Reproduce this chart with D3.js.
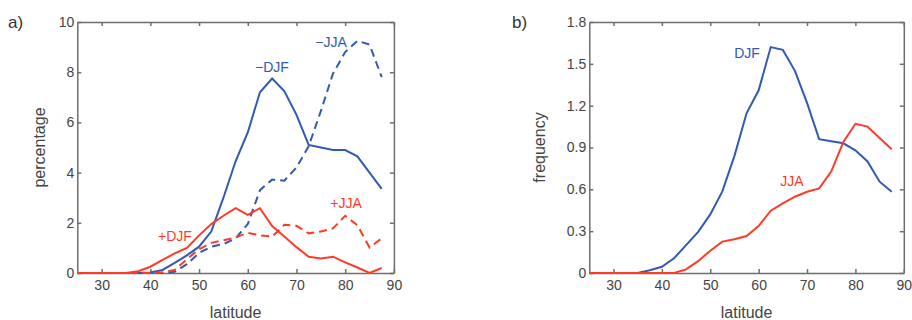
<!DOCTYPE html>
<html>
<head>
<meta charset="utf-8">
<script src="https://cdn.jsdelivr.net/npm/d3@7"></script>
<style>
  body { margin: 0; background: #fff; }
  svg { font-family: "Liberation Sans", Arial, sans-serif; }
  .axis path, .axis line { stroke: #6e6e6e; stroke-width: 1.5; }
  .axis text { fill: #444; font-size: 14px; }
</style>
</head>
<body>
<div id="chart-area"></div>
<script>
// latitude bins (both panels)
const lat = [25, 27.5, 30, 32.5, 35, 37.5, 40, 42.5, 45, 47.5, 50, 52.5, 55,
             57.5, 60, 62.5, 65, 67.5, 70, 72.5, 75, 77.5, 80, 82.5, 85, 87.5];

// panel a) percentage
const negDJF = [0, 0, 0, 0, 0, 0, 0.02, 0.12, 0.4, 0.7, 1.05, 1.65, 3.0,
                4.45, 5.6, 7.2, 7.75, 7.25, 6.3, 5.1, 5.0, 4.9, 4.9, 4.65, 4.0, 3.35];
const negJJA = [0, 0, 0, 0, 0, 0, 0, 0, 0.05, 0.35, 0.8, 1.05, 1.15,
                1.38, 1.95, 3.3, 3.72, 3.68, 4.2, 5.05, 6.45, 7.95, 8.8, 9.25, 9.1, 7.8];
const posDJF = [0, 0, 0, 0, 0, 0.07, 0.25, 0.52, 0.78, 1.0, 1.5, 1.95, 2.28,
                2.58, 2.32, 2.58, 1.87, 1.45, 1.03, 0.65, 0.58, 0.65, 0.42, 0.22, 0.0, 0.2];
const posJJA = [0, 0, 0, 0, 0, 0, 0, 0.03, 0.12, 0.55, 0.95, 1.2, 1.3,
                1.42, 1.6, 1.5, 1.45, 1.92, 1.88, 1.58, 1.65, 1.78, 2.28, 1.9, 1.02, 1.38];

// panel b) frequency
const freqDJF = [0, 0, 0, 0, 0, 0.02, 0.045, 0.105, 0.2, 0.295, 0.42, 0.585, 0.84,
                 1.145, 1.31, 1.62, 1.6, 1.45, 1.22, 0.96, 0.945, 0.93, 0.88, 0.8, 0.655, 0.583];
const freqJJA = [0, 0, 0, 0, 0, 0, 0, 0, 0.026, 0.085, 0.16, 0.225, 0.242,
                 0.265, 0.337, 0.447, 0.5, 0.547, 0.583, 0.607, 0.727, 0.94, 1.07, 1.05, 0.968, 0.887];

const xTicks = [30, 40, 50, 60, 70, 80, 90];
const yTicksA = [0, 2, 4, 6, 8, 10];
const yTicksB = [0, 0.3, 0.6, 0.9, 1.2, 1.5, 1.8];

const blue = "#3259b3", red = "#ff3b28";

const svg = d3.select("#chart-area").append("svg").attr("width", 912).attr("height", 320);

function panel(opt) {
    const x = d3.scaleLinear().domain([25, 90]).range([opt.left, opt.right]);
    const y = d3.scaleLinear().domain(opt.yDomain).range([273, 22]);

    const g = svg.append("g");

    g.append("g").attr("class", "axis")
        .attr("transform", "translate(0,273)")
        .call(d3.axisBottom(x).tickValues(xTicks).tickSize(-4).tickSizeOuter(0).tickPadding(7));
    g.append("g").attr("class", "axis")
        .attr("transform", "translate(0,22)")
        .call(d3.axisTop(x).tickValues(xTicks).tickSize(-4).tickSizeOuter(0).tickFormat(""));
    g.append("g").attr("class", "axis")
        .attr("transform", "translate(" + opt.left + ",0)")
        .call(d3.axisLeft(y).tickValues(opt.yTicks).tickSize(-4).tickSizeOuter(0).tickPadding(3)
              .tickFormat(opt.fmt));
    g.append("g").attr("class", "axis")
        .attr("transform", "translate(" + opt.right + ",0)")
        .call(d3.axisRight(y).tickValues(opt.yTicks).tickSize(-4).tickSizeOuter(0).tickFormat(""));

    const line = d3.line().x((d, i) => x(lat[i])).y(d => y(d));

    opt.series.forEach(s => {
        g.append("path")
            .datum(s.values)
            .attr("fill", "none")
            .attr("stroke", s.color)
            .attr("stroke-width", 2)
            .attr("stroke-dasharray", s.dash ? "8,5" : null)
            .attr("d", line);
    });

    opt.labels.forEach(l => {
        g.append("text")
            .attr("x", l.x).attr("y", l.y)
            .attr("text-anchor", "middle")
            .attr("font-size", "14px")
            .attr("fill", l.color)
            .text(l.text);
    });

    // X Label
    g.append("text")
        .attr("x", (opt.left + opt.right) / 2)
        .attr("y", 318)
        .attr("font-size", "16px")
        .attr("fill", "#444")
        .attr("text-anchor", "middle")
        .text("latitude");

    // Y Label
    g.append("text")
        .attr("transform", "translate(" + opt.yLabelX + "," + 147.5 + ") rotate(-90)")
        .attr("font-size", "16px")
        .attr("fill", "#444")
        .attr("text-anchor", "middle")
        .text(opt.yLabel);

    g.append("text")
        .attr("x", opt.tagX).attr("y", 28)
        .attr("font-size", "17px")
        .attr("fill", "#333")
        .text(opt.tag);
}

panel({
    left: 77.3, right: 393.9, yDomain: [0, 10], yTicks: yTicksA, fmt: d3.format("d"),
    yLabel: "percentage", yLabelX: 45, tag: "a)", tagX: 8,
    series: [
        { values: negDJF, color: blue, dash: false },
        { values: negJJA, color: blue, dash: true },
        { values: posDJF, color: red, dash: false },
        { values: posJJA, color: red, dash: true }
    ],
    labels: [
        { text: "\u2212DJF", x: 272, y: 72, color: blue },
        { text: "\u2212JJA", x: 331, y: 47, color: blue },
        { text: "+DJF", x: 175, y: 241, color: red },
        { text: "+JJA", x: 346, y: 208, color: red }
    ]
});

panel({
    left: 589.3, right: 903.8, yDomain: [0, 1.8], yTicks: yTicksB, fmt: d => d === 0 ? "0" : d3.format(".1f")(d),
    yLabel: "frequency", yLabelX: 545, tag: "b)", tagX: 512,
    series: [
        { values: freqDJF, color: blue, dash: false },
        { values: freqJJA, color: red, dash: false }
    ],
    labels: [
        { text: "DJF", x: 747, y: 58, color: blue },
        { text: "JJA", x: 792, y: 186, color: red }
    ]
});
</script>
</body>
</html>
